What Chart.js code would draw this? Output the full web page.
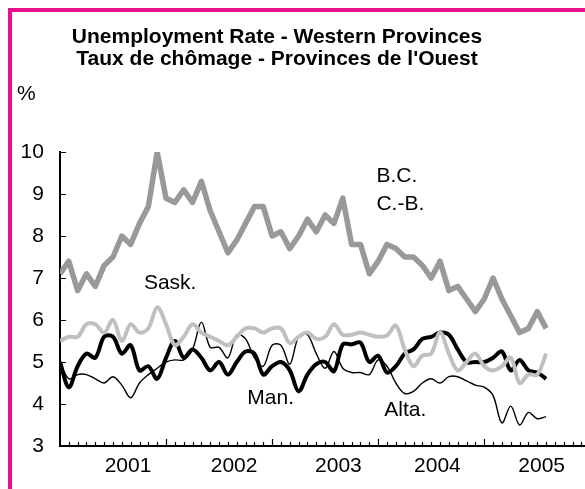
<!DOCTYPE html>
<html>
<head>
<meta charset="utf-8">
<title>Unemployment Rate - Western Provinces</title>
<script src="https://cdn.jsdelivr.net/npm/chart.js@4.4.1/dist/chart.umd.min.js"></script>
<style>
    html, body { margin: 0; padding: 0; background: #fff; }
    #wrap { position: relative; width: 585px; height: 489px; overflow: hidden; }
    #frame {
        position: absolute; left: 8px; top: 8px; width: 700px; height: 700px;
        border-left: 4px solid #e8118d; border-top: 4px solid #e8118d;
    }
    #chart { position: absolute; left: 0; top: 0; }
</style>
</head>
<body>
<div id="wrap">
    <div id="frame"></div>
    <canvas id="chart" width="585" height="489"></canvas>
</div>
<script>
"use strict";

// Monthly rates, index 0 = first month on the axis
const bcRate = [7.1, 7.4, 6.7, 7.1, 6.8, 7.3, 7.5, 8.0, 7.8, 8.3, 8.7, 10.0, 8.9, 8.8, 9.1, 8.8,
    9.3, 8.6, 8.1, 7.6, 7.9, 8.3, 8.7, 8.7, 8.0, 8.1, 7.7, 8.0, 8.4, 8.1, 8.5, 8.3,
    8.9, 7.8, 7.8, 7.1, 7.4, 7.8, 7.7, 7.5, 7.5, 7.3, 7.0, 7.4, 6.7, 6.8, 6.5, 6.2,
    6.5, 7.0, 6.5, 6.1, 5.7, 5.8, 6.2, 5.8];
const saskRate = [5.5, 5.6, 5.6, 5.9, 5.9, 5.7, 6.0, 5.5, 5.9, 5.7, 5.8, 6.3, 5.9, 5.4, 5.6, 5.9,
    5.7, 5.6, 5.5, 5.4, 5.6, 5.8, 5.8, 5.7, 5.8, 5.8, 5.45, 5.6, 5.7, 5.55, 5.6, 5.9,
    5.65, 5.65, 5.7, 5.65, 5.6, 5.63, 5.87, 5.3, 4.9, 5.15, 5.2, 5.7, 5.2, 4.8, 5.0, 5.2,
    4.9, 4.8, 4.9, 5.1, 4.5, 4.7, 4.7, 5.2];
const manRate = [5.0, 4.4, 4.9, 5.2, 5.1, 5.6, 5.6, 5.2, 5.4, 4.8, 4.9, 4.6, 5.1, 5.5, 5.1, 5.3,
    5.1, 4.8, 5.0, 4.7, 5.0, 5.25, 5.2, 4.7, 4.9, 5.0, 4.8, 4.3, 4.7, 4.95, 5.0, 4.78,
    5.42, 5.42, 5.46, 5.0, 5.15, 4.75, 4.9, 5.2, 5.3, 5.55, 5.6, 5.7, 5.65, 5.3, 5.0, 5.0,
    5.0, 5.1, 5.25, 4.8, 5.05, 4.8, 4.75, 4.6];
const altaRate = [5.0, 4.6, 4.7, 4.7, 4.6, 4.5, 4.65, 4.45, 4.15, 4.5, 4.7, 4.85, 5.0, 5.05, 5.05, 5.3,
    5.95, 5.35, 5.35, 5.1, 5.65, 5.55, 5.1, 4.9, 5.4, 5.4, 4.95, 5.6, 5.65, 5.2, 4.85, 5.25,
    4.85, 4.75, 4.75, 4.7, 5.05, 4.9, 4.5, 4.25, 4.3, 4.5, 4.6, 4.5, 4.65, 4.65, 4.55, 4.45,
    4.4, 4.2, 3.55, 3.95, 3.5, 3.8, 3.65, 3.7];

// Axis labels
const yearLabels = ['2001', '2002', '2003', '2004', '2005'];
const yearTickPos = [7.7, 19.7, 31.5, 42.7, 54.5];
const yTicks = [3, 4, 5, 6, 7, 8, 9, 10];

const titleLines = ['Unemployment Rate - Western Provinces', 'Taux de chômage - Provinces de l\'Ouest'];

// Series name tags, anchored in data units (month, %)
const seriesNotes = [
    { text: 'B.C.', x: 35.8, y: 9.28 },
    { text: 'C.-B.', x: 35.8, y: 8.62 },
    { text: 'Sask.', x: 9.5, y: 6.75 },
    { text: 'Man.', x: 21.2, y: 4.0 },
    { text: 'Alta.', x: 36.7, y: 3.72 }
];

const FONT = '"Liberation Sans", Arial, sans-serif';

function toPoints(arr) {
    return arr.map((v, i) => ({ x: i, y: v }));
}

// Inward tick marks, titles and the series tags
const decorPlugin = {
    id: 'decor',
    beforeDatasetsDraw(chart) {
        const { ctx, chartArea, scales: { x, y } } = chart;
        ctx.save();
        ctx.strokeStyle = '#000';
        ctx.lineWidth = 1.2;
        ctx.beginPath();
        for (let m = 1; m <= 60; m++) {
            const px = Math.round(x.getPixelForValue(m)) + 0.5;
            if (px > chartArea.right) break;
            const len = m % 12 === 0 ? 7 : 4;
            ctx.moveTo(px, chartArea.bottom);
            ctx.lineTo(px, chartArea.bottom - len);
        }
        yTicks.forEach(v => {
            const py = Math.round(y.getPixelForValue(v)) + 0.5;
            ctx.moveTo(chartArea.left, py);
            ctx.lineTo(chartArea.left + 6, py);
        });
        ctx.stroke();
        ctx.restore();
    },
    afterDraw(chart) {
        const { ctx, scales: { x, y } } = chart;
        ctx.save();
        ctx.fillStyle = '#000';
        ctx.textBaseline = 'alphabetic';

        ctx.textAlign = 'center';
        ctx.font = 'bold 21px ' + FONT;
        ctx.fillText(titleLines[0], 277, 43);
        ctx.fillText(titleLines[1], 277, 65);

        ctx.textAlign = 'left';
        ctx.font = '21px ' + FONT;
        ctx.fillText('%', 17, 100);

        seriesNotes.forEach(n => {
            ctx.fillText(n.text, x.getPixelForValue(n.x), y.getPixelForValue(n.y));
        });
        ctx.restore();
    }
};

const ctx = document.getElementById('chart').getContext('2d');

new Chart(ctx, {
    type: 'line',
    data: {
        datasets: [
            {
                label: 'B.C.',
                data: toPoints(bcRate),
                borderColor: '#999999',
                borderWidth: 5.5,
                tension: 0,
                borderJoinStyle: 'round',
                pointRadius: 0
            },
            {
                label: 'Sask.',
                data: toPoints(saskRate),
                borderColor: '#c0c0c0',
                borderWidth: 4,
                tension: 0.35,
                pointRadius: 0
            },
            {
                label: 'Man.',
                data: toPoints(manRate),
                borderColor: '#000000',
                borderWidth: 4,
                tension: 0.35,
                pointRadius: 0
            },
            {
                label: 'Alta.',
                data: toPoints(altaRate),
                borderColor: '#000000',
                borderWidth: 1.4,
                tension: 0.35,
                pointRadius: 0
            }
        ]
    },
    options: {
        responsive: false,
        animation: false,
        devicePixelRatio: 1,
        layout: { padding: { top: 152, left: 4.6, right: 0, bottom: 1.8 } },
        plugins: {
            legend: { display: false },
            tooltip: { enabled: false },
            title: { display: false }
        },
        scales: {
            x: {
                type: 'linear',
                min: 0,
                max: 59.4,
                bounds: 'data',
                grid: { display: false, drawTicks: false },
                border: { display: true, color: '#000', width: 2 },
                afterBuildTicks: scale => {
                    scale.ticks = yearTickPos.map(v => ({ value: v }));
                },
                ticks: {
                    autoSkip: false,
                    maxRotation: 0,
                    padding: 8,
                    color: '#000',
                    font: { family: FONT, size: 21 },
                    callback: (value, index) => yearLabels[index]
                }
            },
            y: {
                min: 3,
                max: 10,
                grid: { display: false, drawTicks: false },
                border: { display: true, color: '#000', width: 2 },
                afterBuildTicks: scale => {
                    scale.ticks = yTicks.map(v => ({ value: v }));
                },
                ticks: {
                    padding: 16,
                    color: '#000',
                    font: { family: FONT, size: 21 }
                }
            }
        }
    },
    plugins: [decorPlugin]
});
</script>
</body>
</html>
